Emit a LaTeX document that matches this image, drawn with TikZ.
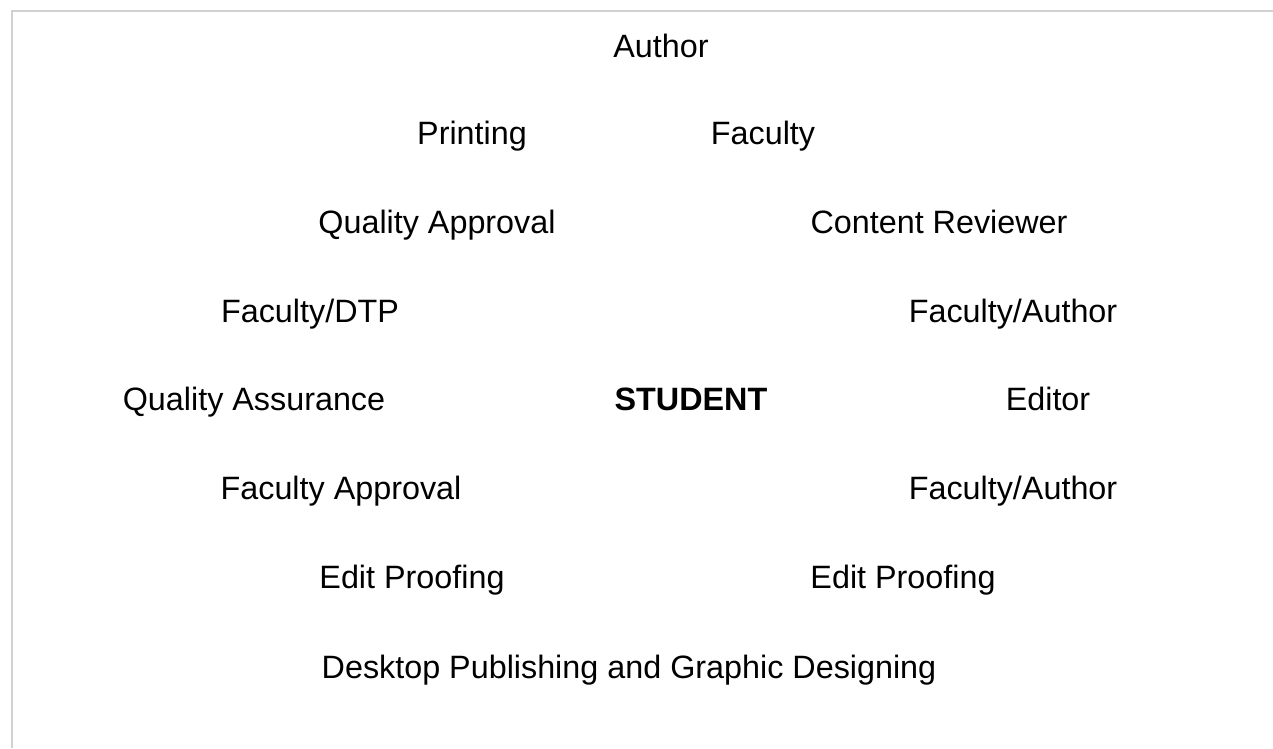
\documentclass[tikz,border=0pt]{standalone}
\usepackage{fontspec}
\setmainfont{Liberation Sans}
\begin{document}
\begin{tikzpicture}[x=0.02cm,y=-0.02cm,
                    lbl/.style={anchor=base,inner sep=0pt,font=\fontsize{18.4}{22}\selectfont},
                    hub/.style={lbl,font=\fontsize{18.4}{22}\selectfont\bfseries}]
  \useasboundingbox (0,0) rectangle (1273,748);
  \draw[line width=1.6pt,color=black!18] (12,748) -- (12,11) -- (1273,11);

  \node[lbl] (author) at (661,57) {Author};
  \node[lbl] (print) at (472,144) {Printing};
  \node[lbl] (fac) at (763,144) {Faculty};
  \node[lbl] (qapp) at (437,233) {Quality Approval};
  \node[lbl] (crev) at (939,233) {Content Reviewer};
  \node[lbl] (fdtp) at (310,322) {Faculty/DTP};
  \node[lbl] (fauth1) at (1013,322) {Faculty/Author};
  \node[lbl] (qass) at (254,410) {Quality Assurance};
  \node[hub] (student) at (691,410) {STUDENT};
  \node[lbl] (editor) at (1048,410) {Editor};
  \node[lbl] (fapp) at (341,499) {Faculty Approval};
  \node[lbl] (fauth2) at (1013,499) {Faculty/Author};
  \node[lbl] (proof1) at (412,588) {Edit Proofing};
  \node[lbl] (proof2) at (903,588) {Edit Proofing};
  \node[lbl] (dtp) at (629,678) {Desktop Publishing and Graphic Designing};
\end{tikzpicture}
\end{document}
